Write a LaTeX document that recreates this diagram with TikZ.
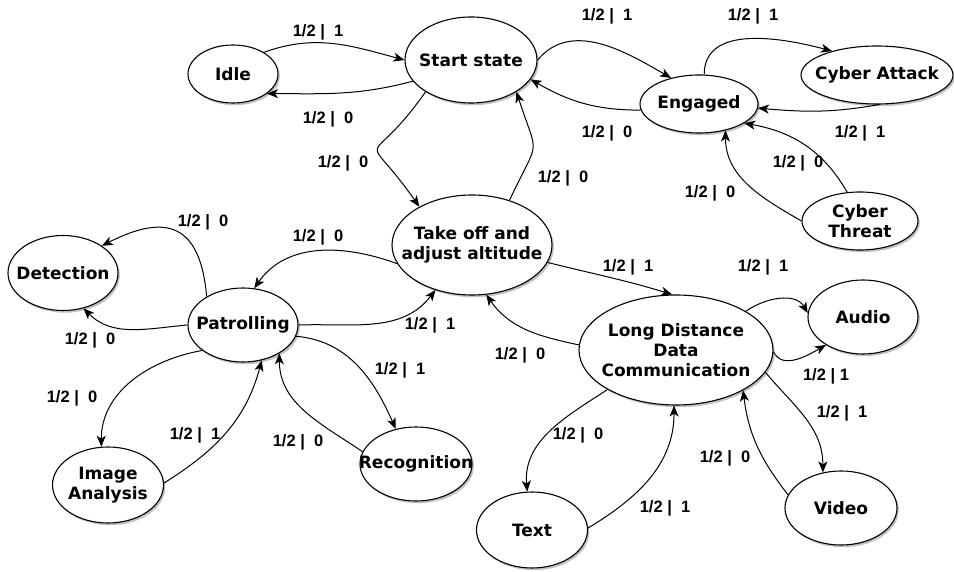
\documentclass[tikz,border=0pt]{standalone}
\usepackage{fontspec}
\setsansfont{DejaVu Sans}
\newfontfamily\lblfont{Liberation Sans}
\usetikzlibrary{arrows.meta,shapes.geometric,shadows}

\begin{document}
\begin{tikzpicture}[x=1pt, y=1pt,
  st/.style={ellipse, draw, line width=1.1pt, fill=white, align=center,
    inner xsep=-20pt, inner ysep=-5pt,
    font=\sffamily\bfseries\fontsize{17}{20}\selectfont,
    drop shadow={shadow xshift=1.8pt, shadow yshift=-2.2pt, opacity=0.35, fill=black!70}},
  tr/.style={-{Stealth[length=11pt, width=9pt, inset=3pt]}, line width=1pt},
  lb/.style={font=\lblfont\bfseries\fontsize{16.5}{16.5}\selectfont}]

% ===== page 954 x 571 =====
\useasboundingbox (0,0) rectangle (954,571);

% ============ states ============
\node[st, minimum width=90pt,  minimum height=58pt]  (idle)      at (233,497) {Idle};
\node[st, minimum width=132pt, minimum height=86pt]  (start)     at (471,511) {Start state};
\node[st, minimum width=118pt, minimum height=58pt]  (engaged)   at (699,467) {Engaged};
\node[st, minimum width=152pt, minimum height=58pt]  (attack)    at (877,496) {Cyber Attack};
\node[st, minimum width=116pt, minimum height=58pt]  (threat)    at (860,350) {Cyber\\Threat};
\node[st, minimum width=160pt, minimum height=100pt] (takeoff)   at (472,326) {Take off and\\adjust altitude};
\node[st, minimum width=110pt, minimum height=75pt]  (detection) at (63,298)  {Detection};
\node[st, minimum width=110pt, minimum height=74pt]  (patrol)    at (243,246) {Patrolling};
\node[st, minimum width=194pt, minimum height=110pt] (lddc)      at (676,221) {Long Distance\\Data\\Communication};
\node[st, minimum width=110pt, minimum height=74pt]  (audio)     at (863,254) {Audio};
\node[st, minimum width=111pt, minimum height=76pt]  (image)     at (108,86)  {Image\\Analysis};
\node[st, minimum width=112pt, minimum height=74pt]  (recog)     at (416,107) {Recognition};
\node[st, minimum width=111pt, minimum height=76pt]  (text)      at (532,41)  {Text};
\node[st, minimum width=112pt, minimum height=74pt]  (video)     at (841,63)  {Video};

% ============ top: start, idle, engaged ============
\draw[tr] (idle.35) to[out=20,in=165] (start.180);
\draw[tr] (start.200) to[out=195,in=0] (idle.-30);
\draw[tr] (start.215) to[out=235,in=125,looseness=2.3] (takeoff.144);
\draw[tr] (takeoff.50) to[out=65,in=-72,looseness=1.7] (start.-35);
\draw[tr] (start.0) to[out=50,in=150] (engaged.137);
\draw[tr] (engaged.186) to[out=180,in=-30] (start.-18);
\draw[tr] (engaged.80) to[out=90,in=165] (attack.152);
\draw[tr] (attack.-85) to[out=190,in=-5] (engaged.-4);
\draw[tr] (threat.114) to[out=120,in=-10] (engaged.-23);
\draw[tr] (threat.180) to[out=150,in=-90] (engaged.-45);

\node[lb] (l1)  at (318,539) {1/2 |\ \ 1};
\node[lb] (l2)  at (328,452) {1/2 |\ \ 0};
\node[lb] (l3)  at (343,408) {1/2 |\ \ 0};
\node[lb] (l4)  at (563,393) {1/2 |\ \ 0};
\node[lb] (l5)  at (607,555) {1/2 |\ \ 1};
\node[lb] (l6)  at (607,438) {1/2 |\ \ 0};
\node[lb] (l7)  at (753,555) {1/2 |\ \ 1};
\node[lb] (l8)  at (860,438) {1/2 |\ \ 1};
\node[lb] (l9)  at (798,408) {1/2 |\ \ 0};
\node[lb] (l10) at (710,378) {1/2 |\ \ 0};

% ============ left: patrolling ============
\draw[tr] (takeoff.194) to[out=160,in=55] (patrol.73);
\draw[tr] (patrol.0) to[out=2,in=232] (takeoff.231);
\draw[tr] (patrol.142) to[out=95,in=27,looseness=1.6] (detection.35);
\draw[tr] (patrol.180) to[out=185,in=-45] (detection.-60);
\draw[tr] (patrol.212) to[out=190,in=90] (image.100);
\draw[tr] (image.2) to[out=32,in=-105] (patrol.-62);
\draw[tr] (patrol.-12) to[out=-5,in=114] (recog.120);
\draw[tr] (recog.167) to[out=146,in=-90] (patrol.-38);

\node[lb] (l11) at (318,334) {1/2 |\ \ 0};
\node[lb] (l12) at (430,246) {1/2 |\ \ 1};
\node[lb] (l15) at (203,349) {1/2 |\ \ 0};
\node[lb] (l16) at (90,231)  {1/2 |\ \ 0};
\node[lb] (l17) at (72,173)  {1/2 |\ \ 0};
\node[lb] (l18) at (195,136) {1/2 |\ \ 1};
\node[lb] (l19) at (400,201) {1/2 |\ \ 1};
\node[lb] (l20) at (298,129) {1/2 |\ \ 0};

% ============ right: long distance communication ============
\draw[tr] (takeoff.-13) to[out=-14,in=163] (lddc.94);
\draw[tr] (lddc.177) to[out=168,in=-55] (takeoff.-74);
\draw[tr] (lddc.29) to[out=35,in=120] (audio.176);
\draw[tr] (lddc.-1) to[out=-65,in=210] (audio.217);
\draw[tr] (lddc.-14) to[out=-50,in=90] (video.117);
\draw[tr] (video.166) to[out=128,in=-83] (lddc.-31);
\draw[tr] (lddc.210) to[out=213,in=95] (text.97);
\draw[tr] (text.2) to[out=31,in=-90] (lddc.-92);

\node[lb] (l13) at (628,304) {1/2 |\ \ 1};
\node[lb] (l14) at (520,216) {1/2 |\ \ 0};
\node[lb] (l21) at (763,304) {1/2 |\ \ 1};
\node[lb] (l22) at (826,195) {1/2 | 1};
\node[lb] (l23) at (842,158) {1/2 |\ \ 1};
\node[lb] (l24) at (725,113) {1/2 |\ \ 0};
\node[lb] (l25) at (578,136) {1/2 |\ \ 0};
\node[lb] (l26) at (665,63)  {1/2 |\ \ 1};

\end{tikzpicture}
\end{document}
